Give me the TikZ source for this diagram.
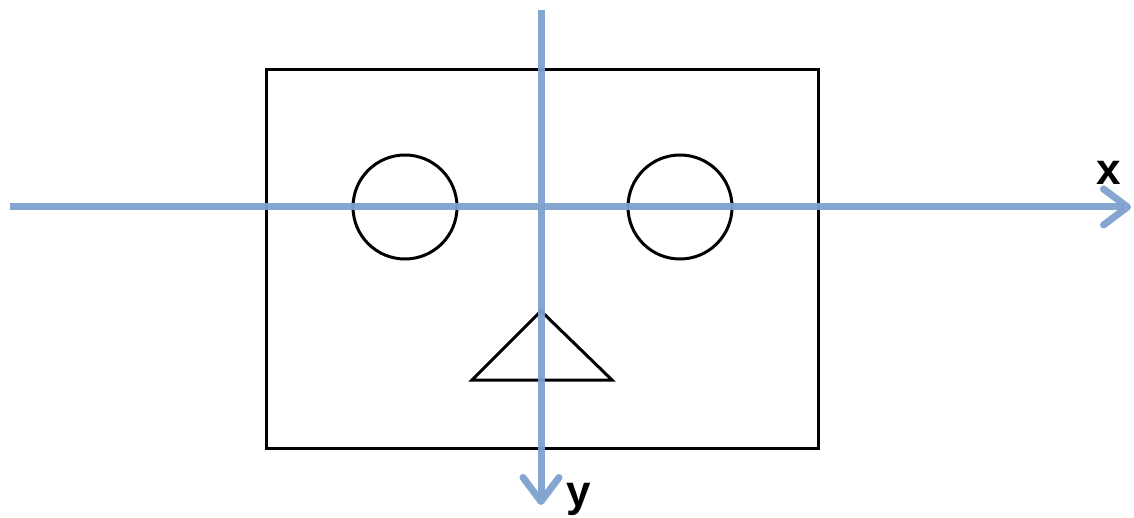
\documentclass[tikz,border=0pt]{standalone}
\usepackage{fontspec}
\setmainfont{Liberation Sans}
\usetikzlibrary{arrows.meta}
\definecolor{axisblue}{RGB}{126,161,206}
\begin{document}
\begin{tikzpicture}[x=1pt,y=-1pt,
  outline/.style={draw=black,line width=3pt},
  axis/.style={draw=axisblue,line width=7pt,opacity=0.95,
    -{Straight Barb[length=24pt,width=36pt,line width=7pt,round]}},
  lbl/.style={font=\fontsize{44}{44}\selectfont\bfseries,inner sep=0pt}]
\useasboundingbox (0,0) rectangle (1134,518);
\draw[outline] (266,70) rectangle (818,448);
\draw[outline] (405,207) circle (52);
\draw[outline] (680,207) circle (52);
\draw[outline,line join=miter] (541,311) -- (612,380) -- (472,380) -- cycle;
\coordinate (xs) at (10,207);
\coordinate (xe) at (1131,207);
\coordinate (ys) at (541,10);
\coordinate (ye) at (541,505);
\draw[axis] (xs) -- (xe);
\draw[axis] (ys) -- (ye);
\node[lbl,anchor=base] (xl) at (1109,185) {x};
\node[lbl,anchor=base] (yl) at (579,506) {y};
\end{tikzpicture}
\end{document}
